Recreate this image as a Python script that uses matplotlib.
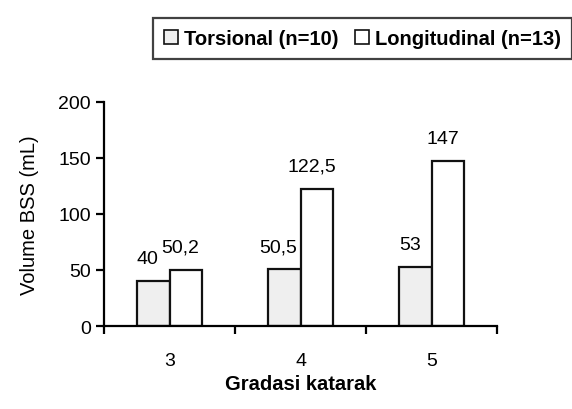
import numpy as np
import matplotlib
matplotlib.use('Agg')
import matplotlib.pyplot as plt
from matplotlib.patches import Patch

plt.rcParams['font.family'] = ['Liberation Sans', 'DejaVu Sans']

grades = ['3', '4', '5']
torsional = [40, 50.5, 53]
longitudinal = [50.2, 122.5, 147]
tors_labels = ['40', '50,5', '53']
long_labels = ['50,2', '122,5', '147']

fig = plt.figure(figsize=(5.72, 4.10), dpi=100)
ax = fig.add_axes([0.182, 0.2024, 0.687, 0.5466])

x = np.arange(len(grades)) + 0.5
w = 0.25
b1 = ax.bar(x - w / 2, torsional, w, color='#efefef', edgecolor='#111111', linewidth=1.6)
b2 = ax.bar(x + w / 2, longitudinal, w, color='white', edgecolor='#111111', linewidth=1.6)

for rect, lab in zip(b1, tors_labels):
    ax.annotate(lab, (rect.get_x() + rect.get_width() / 2, rect.get_height()),
                xytext=(-4, 10), textcoords='offset points', ha='center', va='bottom', fontsize=14)
for rect, lab in zip(b2, long_labels):
    ax.annotate(lab, (rect.get_x() + rect.get_width() / 2, rect.get_height()),
                xytext=(-4, 10), textcoords='offset points', ha='center', va='bottom', fontsize=14)

ax.set_xlim(0, 3)
ax.set_ylim(0, 200)
ax.set_yticks([0, 50, 100, 150, 200])
ax.set_xticks([0, 1, 2, 3])
ax.set_xticklabels([])
ax.set_xticks(x, minor=True)
ax.set_xticklabels(grades, minor=True)
ax.tick_params(axis='x', which='minor', length=0, pad=19, labelsize=14)
ax.tick_params(axis='both', which='major', length=6, width=1.6, labelsize=14, direction='out')
for s in ['top', 'right']:
    ax.spines[s].set_visible(False)
for s in ['left', 'bottom']:
    ax.spines[s].set_linewidth(1.6)

ax.set_ylabel('Volume BSS (mL)', fontsize=14.5, labelpad=14)
ax.set_xlabel('Gradasi katarak', fontsize=14.5, fontweight='bold', labelpad=3)

handles = [Patch(facecolor='#efefef', edgecolor='#111111', linewidth=1.2),
           Patch(facecolor='white', edgecolor='#111111', linewidth=1.2)]
leg = fig.legend(handles, ['Torsional (n=10)', 'Longitudinal (n=13)'], loc='upper left',
                 bbox_to_anchor=(0.25, 0.978), ncol=2, frameon=True, fancybox=False,
                 edgecolor='#111111', prop={'size': 14.5, 'weight': 'bold'},
                 handlelength=0.7, handleheight=0.7, handletextpad=0.3, columnspacing=0.8,
                 borderpad=0.55)
leg.get_frame().set_linewidth(1.6)

fig.savefig('out.png', dpi=100)
